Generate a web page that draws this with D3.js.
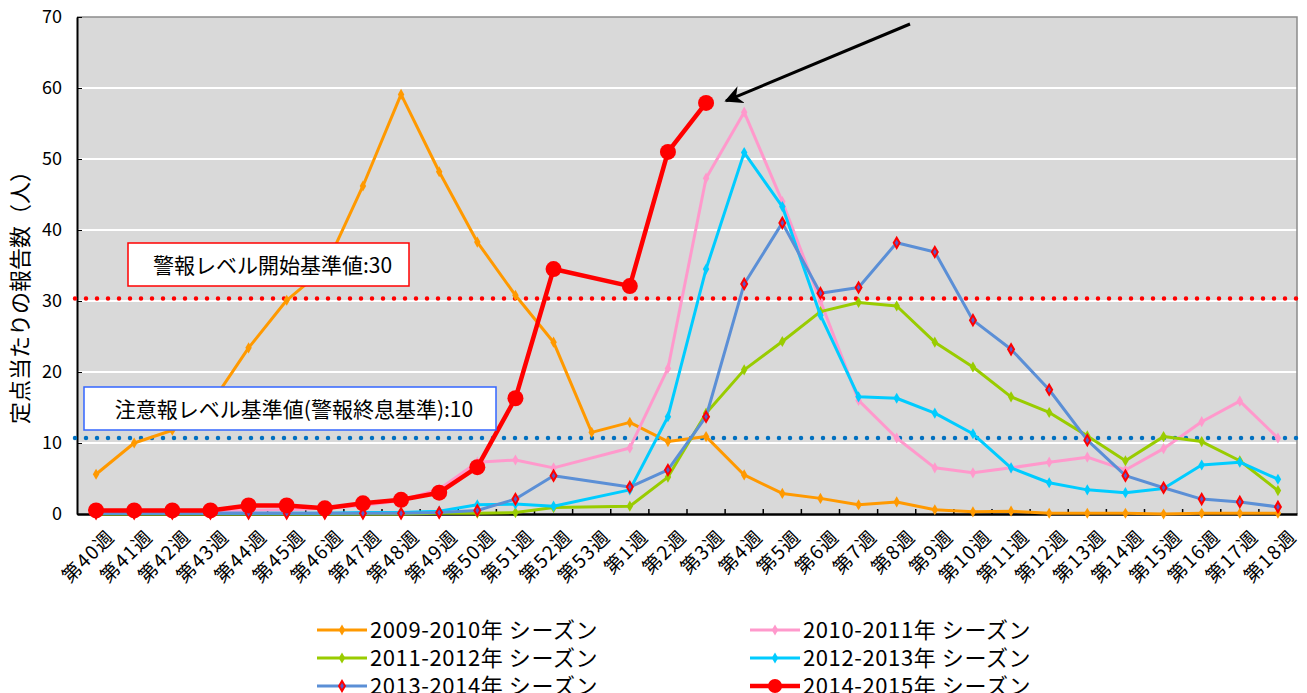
<!DOCTYPE html>
<html>
<head>
<meta charset="utf-8">
<style>
  body { margin: 0; background: #fff; }
  text { font-family: "Noto Sans CJK JP", "Liberation Sans", sans-serif; }
</style>
</head>
<body>
<svg id="chart"></svg>
<script src="https://cdn.jsdelivr.net/npm/d3@7"></script>
<script>

// ---- data ----
var weeks = ["第40週","第41週","第42週","第43週","第44週","第45週","第46週","第47週","第48週","第49週",
  "第50週","第51週","第52週","第53週","第1週","第2週","第3週","第4週","第5週","第6週","第7週","第8週",
  "第9週","第10週","第11週","第12週","第13週","第14週","第15週","第16週","第17週","第18週"];

var s0910 = [5.6,10.0,11.8,15.4,23.4,30.1,34.6,46.2,59.1,48.2,38.3,30.8,24.2,11.5,12.9,10.2,10.9,5.5,2.9,2.2,1.3,1.7,0.6,0.3,0.4,0.1,0.1,0.1,0.0,0.1,0.1,0.1];
var s1011 = [0.3,0.3,0.3,0.4,0.5,0.6,0.8,1.2,1.9,3.5,7.3,7.6,6.5,null,9.3,20.5,47.3,56.6,44.0,30.0,16.0,10.7,6.5,5.8,6.5,7.3,8.0,6.2,9.2,13.0,15.9,10.7];
var s1112 = [0.0,0.0,0.0,0.0,0.0,0.0,0.0,0.0,0.0,0.1,0.1,0.2,0.9,null,1.1,5.2,14.2,20.3,24.3,28.5,29.8,29.3,24.2,20.7,16.5,14.3,11.0,7.5,10.9,10.2,7.5,3.3];
var s1213 = [0.1,0.1,0.1,0.1,0.1,0.1,0.1,0.2,0.2,0.4,1.3,1.4,1.1,null,3.4,13.7,34.5,50.9,43.3,28.0,16.5,16.3,14.2,11.3,6.5,4.4,3.4,3.0,3.6,6.9,7.3,4.9];
var s1314 = [0.1,0.1,0.1,0.1,0.1,0.1,0.1,0.1,0.1,0.2,0.5,2.1,5.4,null,3.8,6.2,13.7,32.4,41.0,31.1,31.9,38.2,36.9,27.3,23.2,17.5,10.4,5.4,3.7,2.1,1.7,1.0];
var s1415 = [0.5,0.5,0.5,0.5,1.2,1.2,0.8,1.5,2.0,3.0,6.6,16.3,34.5,null,32.1,51.0,57.9];

var seasonNames = ["2009-2010年 シーズン","2010-2011年 シーズン","2011-2012年 シーズン",
  "2012-2013年 シーズン","2013-2014年 シーズン","2014-2015年 シーズン"];
var seasonValues = [s0910, s1011, s1112, s1213, s1314, s1415];
var seasonColors = ["#FF9900","#FF99CC","#99CC00","#00CCFF","#5B8FD6","#FF0000"];

var yTicks = [0,10,20,30,40,50,60,70];

var levelLabels = ["警報レベル開始基準値:30", "注意報レベル基準値(警報終息基準):10"];
var levelValues = [30.35, 10.7];
var levelColors = ["#FF0000", "#0070C0"];
var levelBoxColors = ["#FF0000", "#3366FF"];

// ---- layout ----
var W = 1307, H = 693;
var m = {left: 77, right: 10, top: 17, bottom: 179};

var svg = d3.select("#chart").attr("width", W).attr("height", H);

var x = d3.scaleBand().domain(weeks).range([m.left, W - m.right]);
var y = d3.scaleLinear().domain([0, 70]).range([H - m.bottom, m.top]);

// plot background
svg.append("rect")
  .attr("x", m.left).attr("y", m.top)
  .attr("width", W - m.right - m.left).attr("height", H - m.bottom - m.top)
  .attr("fill", "#D9D9D9");

// gridlines
svg.append("g").selectAll("line")
  .data(yTicks.slice(1, -1))
  .join("line")
  .attr("x1", m.left).attr("x2", W - m.right)
  .attr("y1", function(d) { return y(d); }).attr("y2", function(d) { return y(d); })
  .attr("stroke", "#fff").attr("stroke-width", 2);

// top/right frame
svg.append("path")
  .attr("d", "M" + m.left + "," + m.top + "H" + (W - m.right) + "V" + (H - m.bottom))
  .attr("fill", "none").attr("stroke", "#8c8c8c").attr("stroke-width", 1.5);

// y axis
var yAxis = svg.append("g")
  .attr("transform", "translate(" + m.left + ",0)")
  .call(d3.axisLeft(y).tickValues(yTicks).tickSizeInner(-5).tickSizeOuter(0).tickPadding(15));
yAxis.select(".domain").attr("stroke", "#000").attr("stroke-width", 2);
yAxis.selectAll(".tick line").attr("stroke", "#000");
yAxis.selectAll("text").attr("font-size", 18).attr("font-family", "Liberation Sans, Arial, sans-serif").attr("fill", "#000");

// x axis
var boundaries = weeks.slice(1);
var xAxis = svg.append("g")
  .attr("transform", "translate(0," + (H - m.bottom) + ")")
  .call(d3.axisBottom(x).tickSize(0).tickPadding(0));
xAxis.select(".domain").attr("stroke", "#000").attr("stroke-width", 2.5);
xAxis.selectAll("text")
  .attr("font-size", 19)
  .attr("letter-spacing", 1.5)
  .attr("fill", "#000")
  .attr("text-anchor", "end")
  .attr("dy", "0")
  .attr("transform", "translate(20,24) rotate(-45)");
xAxis.selectAll(".bnd")
  .data(boundaries)
  .join("line")
  .attr("class", "bnd")
  .attr("x1", function(d) { return x(d); }).attr("x2", function(d) { return x(d); })
  .attr("y1", 0).attr("y2", -5)
  .attr("stroke", "#000").attr("stroke-width", 1.5);

// threshold dotted lines
svg.append("g").selectAll("line")
  .data(levelValues)
  .join("line")
  .attr("x1", m.left - 2).attr("x2", W - 2)
  .attr("y1", function(d) { return y(d); }).attr("y2", function(d) { return y(d); })
  .attr("stroke", function(d, i) { return levelColors[i]; })
  .attr("stroke-width", 4.5)
  .attr("stroke-linecap", "round")
  .attr("stroke-dasharray", "0,11");

// series lines
var xc = function(i) { return x(weeks[i]) + x.bandwidth() / 2; };
var line = d3.line()
  .defined(function(d) { return d.v != null; })
  .x(function(d) { return xc(d.i); })
  .y(function(d) { return y(d.v); });

var diamond = d3.symbol().type(d3.symbolDiamond);

[0, 1, 2, 3, 4, 5].forEach(function(k) {
  var pts = seasonValues[k].map(function(v, i) { return {i: i, v: v}; })
    .filter(function(d) { return d.v != null; });
  var g = svg.append("g");
  var isMain = k === 5;
  g.append("path")
    .attr("d", line(pts))
    .attr("fill", "none")
    .attr("stroke", seasonColors[k])
    .attr("stroke-width", isMain ? 4.5 : 3)
    .attr("stroke-linejoin", "round");
  if (isMain) {
    g.selectAll("circle").data(pts).join("circle")
      .attr("cx", function(d) { return xc(d.i); })
      .attr("cy", function(d) { return y(d.v); })
      .attr("r", 8)
      .attr("fill", seasonColors[k]);
  } else if (k === 4) {
    g.selectAll("path.mk").data(pts).join("path")
      .attr("class", "mk")
      .attr("d", diamond.size(30))
      .attr("transform", function(d) { return "translate(" + xc(d.i) + "," + y(d.v) + ")"; })
      .attr("fill", "#5B5BC8").attr("stroke", "#FF0000").attr("stroke-width", 2);
  } else {
    g.selectAll("path.mk").data(pts).join("path")
      .attr("class", "mk")
      .attr("d", diamond.size(36))
      .attr("transform", function(d) { return "translate(" + xc(d.i) + "," + y(d.v) + ")"; })
      .attr("fill", seasonColors[k]);
  }
});

// annotation boxes
var boxes = [
  {x: 128, y: 243, w: 281, h: 43},
  {x: 84, y: 387, w: 412, h: 43}
];
boxes.forEach(function(b, i) {
  svg.append("rect")
    .attr("x", b.x).attr("y", b.y).attr("width", b.w).attr("height", b.h)
    .attr("fill", "#fff").attr("stroke", levelBoxColors[i]).attr("stroke-width", 1.5);
  svg.append("text")
    .attr("x", b.x + b.w / 2 + 4).attr("y", b.y + b.h / 2 + 8)
    .attr("text-anchor", "middle")
    .attr("font-size", 21).attr("fill", "#000")
    .text(levelLabels[i]);
});

// arrow pointing at latest week
svg.append("defs").append("marker")
  .attr("id", "ah").attr("viewBox", "0 0 10 10")
  .attr("refX", 9).attr("refY", 5)
  .attr("markerWidth", 6).attr("markerHeight", 6)
  .attr("markerUnits", "strokeWidth")
  .attr("orient", "auto")
  .append("path").attr("d", "M0,0L10,5L0,10L3,5Z").attr("fill", "#000");
svg.append("line")
  .attr("x1", 910).attr("y1", 24)
  .attr("x2", xc(16) + 20).attr("y2", y(s1415[16]) - 2)
  .attr("stroke", "#000").attr("stroke-width", 3)
  .attr("marker-end", "url(#ah)");

// y axis title
svg.append("text")
  .attr("transform", "translate(28,292) rotate(-90)")
  .attr("text-anchor", "middle")
  .attr("font-size", 22).attr("fill", "#000")
  .text("定点当たりの報告数（人）");

// legend
var legend = svg.append("g");
var legPos = seasonNames.map(function(d, i) {
  return {x: i % 2 === 0 ? 317 : 750, y: 630 + Math.floor(i / 2) * 28};
});
seasonNames.forEach(function(name, i) {
  var p = legPos[i];
  var g = legend.append("g").attr("transform", "translate(" + p.x + "," + p.y + ")");
  g.append("line").attr("x1", 0).attr("x2", 50).attr("y1", 0).attr("y2", 0)
    .attr("stroke", seasonColors[i]).attr("stroke-width", i === 5 ? 4.5 : 3);
  if (i === 5) {
    g.append("circle").attr("cx", 25).attr("r", 7).attr("fill", seasonColors[i]);
  } else if (i === 4) {
    g.append("path").attr("d", diamond.size(30)).attr("transform", "translate(25,0)")
      .attr("fill", "#5B5BC8").attr("stroke", "#FF0000").attr("stroke-width", 2);
  } else {
    g.append("path").attr("d", diamond.size(36)).attr("transform", "translate(25,0)")
      .attr("fill", seasonColors[i]);
  }
  g.append("text").attr("x", 53).attr("y", 8)
    .attr("font-size", 22).attr("letter-spacing", 0.6).attr("fill", "#000")
    .text(name);
});

</script>
</body>
</html>
